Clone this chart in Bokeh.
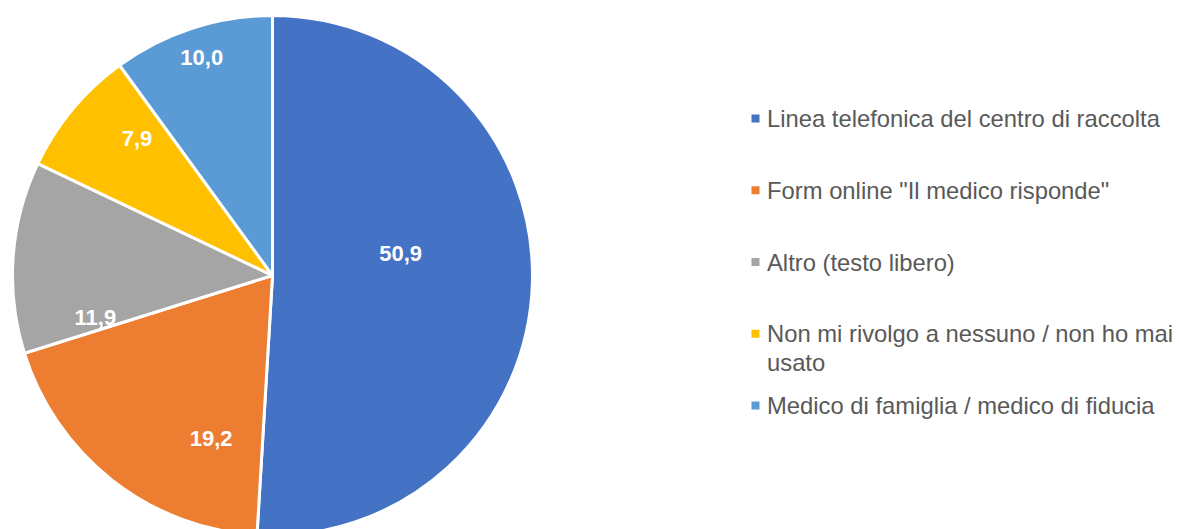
import math
from bokeh.plotting import figure
from bokeh.models import Range1d, ColumnDataSource
from bokeh.core.properties import value
from bokeh.embed import file_html
from bokeh.resources import INLINE

# ---- data ----
categories = [
    "Linea telefonica del centro di raccolta",
    "Form online \"Il medico risponde\"",
    "Altro (testo libero)",
    "Non mi rivolgo a nessuno / non ho mai\nusato",
    "Medico di famiglia / medico di fiducia",
]
values = [50.9, 19.2, 11.9, 7.9, 10.0]
value_labels = ["50,9", "19,2", "11,9", "7,9", "10,0"]
colors = ["#4472C4", "#ED7D31", "#A5A5A5", "#FFC000", "#5B9BD5"]

# ---- layout / style ----
W, H = 1179, 529
CX, CY, R = 272, 254, 260          # pie centre/radius in plot units (1 unit = 1 px)
label_r_frac = [0.50, 0.67, 0.70, 0.74, 0.88]
label_shift_deg = [-11.4, -17.4, -17.3, 5.5, 0.0]
LEG_X, LEG_Y0, LEG_DY, LINE_H = 755, 411, 71.75, 28.5

p = figure(width=W, height=H, output_backend="svg", toolbar_location=None,
           x_range=Range1d(0, W), y_range=Range1d(0, H), min_border=0)
p.axis.visible = False
p.grid.visible = False
p.outline_line_color = None
p.background_fill_color = "white"
p.border_fill_color = "white"

total = sum(values)
starts, ends, lx, ly = [], [], [], []
cum = 0.0
for i, v in enumerate(values):
    a0 = cum / total
    cum += v
    a1 = cum / total
    # clockwise from 12 o'clock
    starts.append(math.pi / 2 - 2 * math.pi * a1)
    ends.append(math.pi / 2 - 2 * math.pi * a0)
    mid = 2 * math.pi * (a0 + a1) / 2 + math.radians(label_shift_deg[i])
    rr = R * label_r_frac[i]
    lx.append(CX + rr * math.sin(mid))
    ly.append(CY + rr * math.cos(mid))

src = ColumnDataSource(dict(start=starts, end=ends, color=colors,
                            lx=lx, ly=ly, lab=value_labels))
p.wedge(x=CX, y=CY, radius=R, start_angle="start", end_angle="end",
        direction="anticlock", fill_color="color", line_color="white",
        line_width=3, source=src)
p.text(x="lx", y="ly", text="lab", source=src, text_color="white",
       text_font=value("Liberation Sans"), text_font_style="bold",
       text_font_size="22px", text_align="center", text_baseline="middle")

# ---- legend ----
sq_x, sq_y, sq_c = [], [], []
tx, ty, tt = [], [], []
for i, cat in enumerate(categories):
    y = LEG_Y0 - i * LEG_DY
    sq_x.append(LEG_X)
    sq_y.append(y)
    sq_c.append(colors[i])
    for j, line in enumerate(cat.split("\n")):
        tx.append(LEG_X + 11.5)
        ty.append(y - j * LINE_H)
        tt.append(line)

p.scatter(x=sq_x, y=sq_y, marker="square", size=8, fill_color=sq_c,
          line_color=None)
p.text(x=tx, y=ty, text=tt, text_color="#595959",
       text_font=value("Liberation Sans"), text_font_size="23.8px",
       text_align="left", text_baseline="middle")

open("out.html", "w").write(file_html(p, INLINE))
